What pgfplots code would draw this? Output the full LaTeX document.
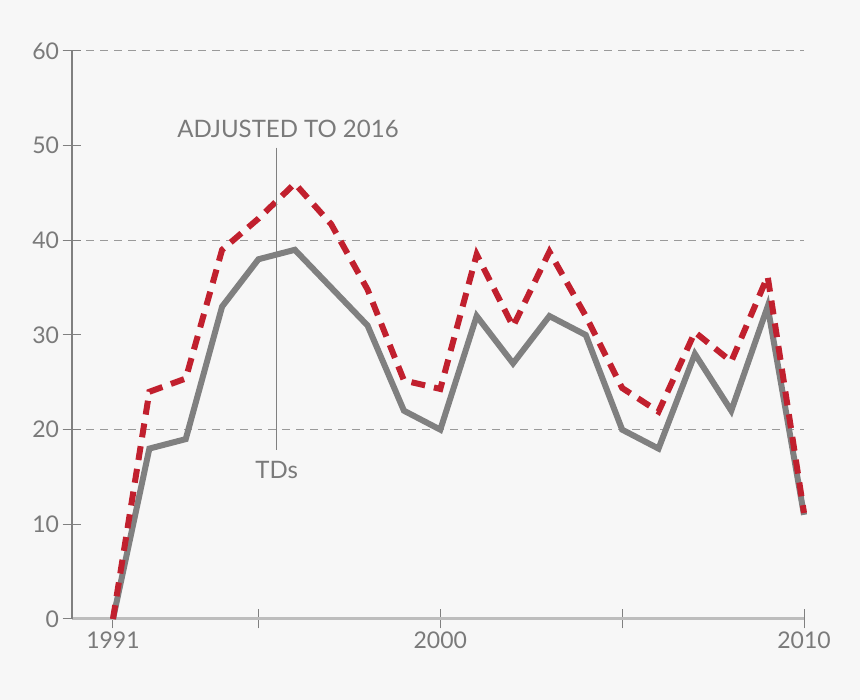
\documentclass[border=0pt]{standalone}
\usepackage{fontspec}
\setmainfont{Lato}
\usepackage{pgfplots}
\pgfplotsset{compat=1.18}
\definecolor{bg}{HTML}{F7F7F7}
\definecolor{tdgray}{HTML}{808080}
\definecolor{adjred}{HTML}{C1202E}
\definecolor{txtgray}{HTML}{7A7A7A}
\definecolor{gridgray}{HTML}{9A9A9A}
\definecolor{xaxisgray}{HTML}{BDBDBD}
\begin{document}
\begin{tikzpicture}[x=1pt,y=1pt]
\fill[bg] (0,0) rectangle (860,700);
\useasboundingbox (0,0) rectangle (860,700);
\begin{axis}[
  at={(72pt,81pt)}, anchor=south west,
  scale only axis, width=732pt, height=568pt,
  xmin=1989.873, xmax=2010, ymin=0, ymax=60,
  axis x line*=bottom, axis y line*=left,
  x axis line style={xaxisgray, line width=3pt},
  y axis line style={tdgray, line width=1.2pt},
  clip=false,
  xtick={1991,1995,2000,2005,2010},
  xticklabels={1991,,2000,,2010},
  ytick={0,10,20,30,40,50,60},
  tick align=center,
  major tick length=19pt,
  tick style={tdgray, line width=1pt},
  tick label style={txtgray, font=\fontsize{23}{23}\selectfont},
  /pgf/number format/assume math mode=true,
  /pgf/number format/1000 sep={},
  extra y ticks={20,40,60},
  extra y tick labels={},
  extra y tick style={grid=major},
  major grid style={gridgray, line width=1pt, dash pattern=on 8pt off 6pt},
]
\addplot[tdgray, line width=6pt] coordinates {
(1991,0) (1992,18) (1993,19) (1994,33) (1995,38) (1996,39) (1997,35)
(1998,31) (1999,22) (2000,20) (2001,32) (2002,27) (2003,32) (2004,30)
(2005,20) (2006,18) (2007,28) (2008,22) (2009,33) (2010,11)};
\addplot[adjred, line width=6pt, dash pattern=on 14pt off 9pt] coordinates {
(1991,0) (1992,24) (1993,25.4) (1994,39) (1995,42.3) (1996,46) (1997,41.7)
(1998,34.8) (1999,25.2) (2000,24.3) (2001,38.5) (2002,30.9) (2003,38.8) (2004,32)
(2005,24.4) (2006,21.9) (2007,30.3) (2008,27.2) (2009,36.2) (2010,11.2)};
\draw[tdgray, line width=1pt] (axis cs:1995.5,49.8) -- (axis cs:1995.5,17.8);
\node[txtgray, font=\fontsize{24}{24}\selectfont] at (axis cs:1995.81,51.76) {ADJUSTED TO 2016};
\node[txtgray, font=\fontsize{24}{24}\selectfont] at (axis cs:1995.5,15.7) {TDs};
\end{axis}
\end{tikzpicture}
\end{document}
